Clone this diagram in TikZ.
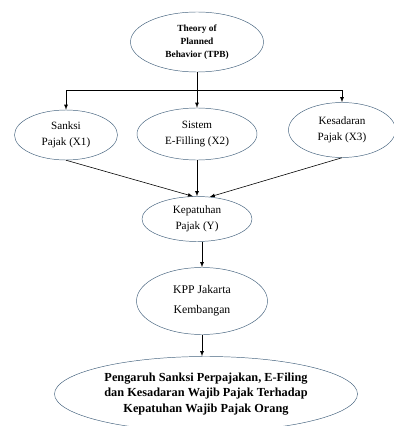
\documentclass[tikz,border=0pt]{standalone}
\usepackage{fontspec}
\setmainfont{Liberation Serif}
\usepackage{tikz}
\usetikzlibrary{shapes,arrows,positioning}
\definecolor{ovalline}{HTML}{44627E}

\begin{document}
\begin{tikzpicture}[x=0.03cm, y=-0.03cm, >=latex,
  oval/.style={draw=ovalline, ellipse, inner sep=0pt, align=center,
    font=\fontsize{9.5}{13.5}\selectfont},
  link/.style={->, black, line width=0.5pt}]
  \useasboundingbox (0,0) rectangle (393,426);

  % Theory
  \node[oval, minimum width=3.99cm, minimum height=1.8cm,
    font=\fontsize{8}{11}\selectfont\bfseries] (tpb) at (197,42)
    {Theory of\\Planned\\Behavior (TPB)};

  % Variables
  \node[oval, minimum width=3.09cm, minimum height=1.5cm] (sanksi) at (66,135)
    {Sanksi\\Pajak (X1)};
  \node[oval, minimum width=3.6cm, minimum height=1.56cm] (sistem) at (197,134)
    {Sistem\\E-Filling (X2)};
  \node[oval, minimum width=3.21cm, minimum height=1.65cm] (kesadaran) at (342,130)
    {Kesadaran\\Pajak (X3)};
  \node[oval, minimum width=3.3cm, minimum height=1.35cm] (kepatuhan) at (197,219)
    {Kepatuhan\\Pajak (Y)};
  \node[oval, minimum width=3.93cm, minimum height=2.01cm,
    font=\fontsize{10}{17}\selectfont] (kpp) at (202,301)
    {KPP Jakarta\\Kembangan};
  \node[oval, minimum width=9.09cm, minimum height=2.25cm,
    font=\fontsize{10.5}{13.5}\selectfont\bfseries] (result) at (206,394)
    {Pengaruh Sanksi Perpajakan, E-Filing\\dan Kesadaran Wajib Pajak Terhadap\\Kepatuhan Wajib Pajak Orang};

  % Branching from theory
  \coordinate (split) at (197,90);
  \draw[line width=0.5pt] (tpb) -- (split);
  \draw[link] (split) -| (sanksi);
  \draw[link] (split) -- (sistem);
  \draw[link] (split) -| (kesadaran);

  % Towards compliance
  \draw[link] (sanksi.south) -- (kepatuhan.100);
  \draw[link] (sistem) -- (kepatuhan);
  \draw[link] (kesadaran.south) -- (kepatuhan.60);
  \draw[link] (kpp.north |- kepatuhan.south) -- (kpp.north);
  \draw[link] (kpp.south) -- (kpp.south |- result.north);
\end{tikzpicture}
\end{document}
